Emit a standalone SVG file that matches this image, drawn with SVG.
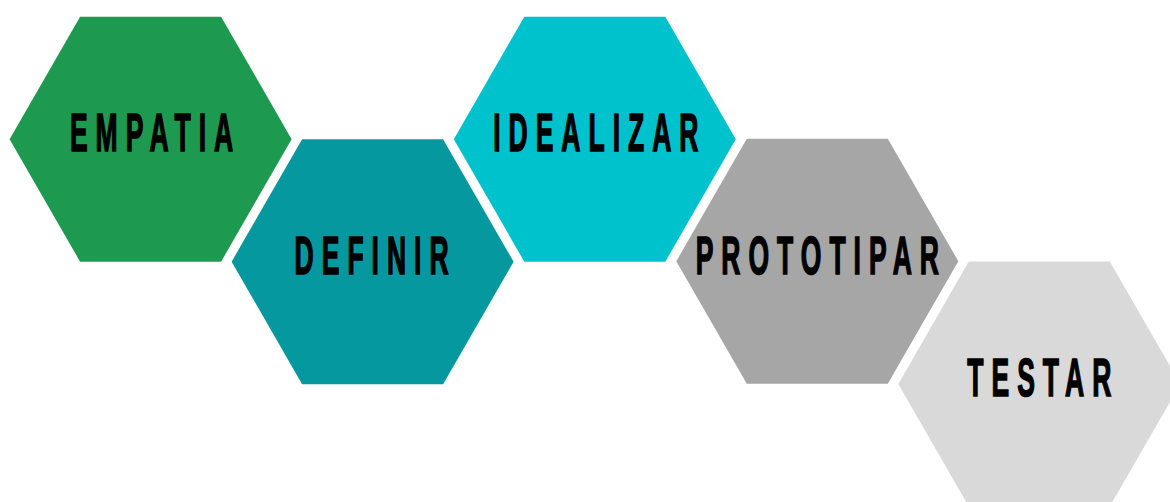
<svg xmlns="http://www.w3.org/2000/svg" xmlns:xlink="http://www.w3.org/1999/xlink" width="1170" height="502" viewBox="0 0 1170 502">
  <defs>
    <polygon id="hex" points="-141,0 -70.5,-122.5 70.5,-122.5 141,0 70.5,122.5 -70.5,122.5"/>
    <style>
      .lbl { font-family: "Liberation Sans", Arial, sans-serif; font-weight: bold; font-size: 53px; letter-spacing: 16px; text-anchor: middle; fill: #000; stroke: #000; stroke-width: 1.6px; }
      .c1 { fill: #1E9A50; }
      .c2 { fill: #05989F; }
      .c3 { fill: #00C2CC; }
      .c4 { fill: #A6A6A6; }
      .c5 { fill: #D9D9D9; }
    </style>
  </defs>
  <rect width="1170" height="502" fill="#FFFFFF"/>
  <g id="empatia" transform="translate(150.6,139.2)">
    <use href="#hex" xlink:href="#hex" class="c1"/>
    <text class="lbl" transform="scale(0.5,1)" x="10" y="12.2">EMPATIA</text>
  </g>
  <g id="definir" transform="translate(372.6,261.7)">
    <use href="#hex" xlink:href="#hex" class="c2"/>
    <text class="lbl" transform="scale(0.5,1)" x="6" y="12.6">DEFINIR</text>
  </g>
  <g id="idealizar" transform="translate(594.8,139.2)">
    <use href="#hex" xlink:href="#hex" class="c3"/>
    <text class="lbl" transform="scale(0.5,1)" x="10" y="12.2">IDEALIZAR</text>
  </g>
  <g id="prototipar" transform="translate(817.3,261.2)">
    <use href="#hex" xlink:href="#hex" class="c4"/>
    <text class="lbl" transform="scale(0.5,1)" x="8" y="12.6">PROTOTIPAR</text>
  </g>
  <g id="testar" transform="translate(1039.3,384)">
    <use href="#hex" xlink:href="#hex" class="c5"/>
    <text class="lbl" transform="scale(0.5,1)" x="8" y="12.4">TESTAR</text>
  </g>
</svg>
